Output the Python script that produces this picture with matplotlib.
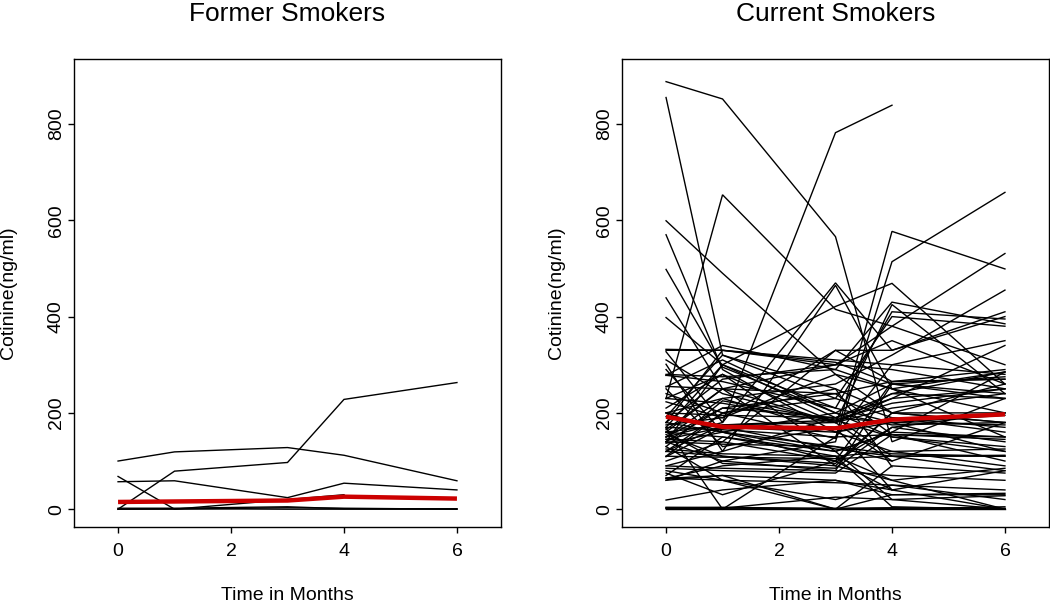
import numpy as np
import matplotlib
matplotlib.use('Agg')
from matplotlib import pyplot as plt

plt.rcParams['font.family'] = ['Liberation Sans', 'DejaVu Sans']

# months where cotinine was measured
meses = [0, 1, 3, 4, 6]
nan = np.nan

# former smokers, one row per subject
ex_fumantes = [
    [0, 79, 97, 228, 263],
    [100, 119, 128, 112, 59],
    [57, 59, 24, 54, 40],
    [68, 0, 20, 30, nan],
    [0, 0, 3, 2, 0],
    [2, 2, 5, 1, 1],
    [0, 1, 0, 0, 0],
]
media_ex = [15, 16, 18, 26, 22]

# current smokers, one row per subject
fumantes = [
    [888, 852, 566, 140, 230],
    [855, 320, 250, 200, 180],
    [150, 180, 782, 839, nan],
    [230, 653, 415, 380, 300],
    [599, 490, 280, 250, 200],
    [570, 290, 160, 120, 90],
    [498, 295, 200, 150, 130],
    [439, 250, 180, 210, 240],
    [120, 200, 147, 577, 499],
    [140, 100, 140, 514, 658],
    [170, 300, 421, 469, 260],
    [160, 250, 300, 380, 531],
    [200, 230, 260, 320, 455],
    [398, 300, 190, 110, 80],
    [332, 330, 310, 300, 280],
    [327, 180, 470, 330, 400],
    [301, 120, 465, 250, 150],
    [278, 340, 290, 430, 385],
    [278, 265, 210, 410, 395],
    [254, 310, 200, 260, 275],
    [223, 190, 330, 330, 410],
    [210, 280, 180, 425, 240],
    [192, 320, 230, 400, 380],
    [168, 0, 150, 300, 350],
    [160, 150, 120, 160, 150],
    [150, 210, 190, 240, 285],
    [145, 140, 100, 265, 270],
    [137, 160, 200, 175, 180],
    [130, 225, 185, 150, 120],
    [120, 110, 90, 200, 260],
    [109, 170, 125, 110, 110],
    [85, 80, 75, 155, 145],
    [80, 60, 20, 50, 40],
    [64, 90, 110, 60, 85],
    [64, 70, 60, 40, 0],
    [60, 100, 80, 260, 230],
    [19, 40, 60, 30, 33],
    [2, 2, 2, 3, 2],
    [0, 0, 0, 0, 0],
    [4, 3, 0, 2, 1],
    [1, 2, 25, 20, 28],
    [150, 230, 160, 190, 170],
    [165, 250, 90, 60, 0],
    [140, 300, 210, 180, 120],
    [290, 160, 130, 100, 180],
    [250, 130, 170, 40, 80],
    [180, 270, 300, 350, 260],
    [200, 160, 100, 170, 140],
    [175, 190, 280, 200, 200],
    [310, 240, 180, 230, 250],
    [100, 140, 330, 265, 270],
    [90, 120, 190, 230, 340],
    [130, 60, 0, 90, 75],
    [70, 150, 110, 5, 0],
    [230, 280, 120, 160, 285],
    [160, 95, 85, 170, 200],
    [140, 210, 240, 155, 100],
    [120, 175, 180, 100, nan],
    [110, 200, 250, 88, nan],
    [75, 30, 100, 40, nan],
    [180, 330, 300, 290, 250],
    [60, 70, 0, 30, 30],
    [155, 110, 95, 200, 180],
    [240, 200, 230, 190, 160],
    [145, 170, 160, 180, 195],
    [330, 330, 305, 260, 240],
    [280, 275, 290, 250, 285],
    [255, 250, 240, 265, 290],
    [170, 165, 150, 155, 150],
    [140, 135, 130, 115, 110],
    [110, 108, 105, 110, 112],
    [90, 85, 80, 70, 60],
    [65, 60, 55, 50, 20],
    [180, 160, 120, 20, 0],
    [230, 220, 180, 240, 230],
    [200, 195, 190, 180, 175],
    [125, 115, 110, 120, 125],
    [160, 175, 185, 220, 250],
    [3, 4, 1, 0, 5],
]
media_atual = [192, 171, 168, 186, 197]

titulos = ['Former Smokers', 'Current Smokers']
rotulo_x = 'Time in Months'
rotulo_y = 'Cotinine(ng/ml)'
ticks_x = [0, 2, 4, 6]
ticks_y = [0, 200, 400, 600, 800]

W, H = 1050, 604
fig = plt.figure(figsize=(W / 100, H / 100), dpi=100)

paineis = [
    (74, ex_fumantes, media_ex, titulos[0]),
    (622, fumantes, media_atual, titulos[1]),
]

for esquerda, dados, media, titulo in paineis:
    ax = fig.add_axes([esquerda / W, 1 - 527 / H, 427 / W, 468 / H])
    for linha in dados:
        ax.plot(meses, linha, color='black', lw=1.0, solid_joinstyle='miter')
    ax.plot(meses, media, color='#cc0000', lw=3.2, solid_capstyle='butt')
    ax.set_xlim(-0.78, 6.78)
    ax.set_ylim(-37, 935)
    ax.set_xticks(ticks_x)
    ax.set_yticks(ticks_y)
    ax.tick_params(direction='out', length=4.5, width=1.0, labelsize=14, color='black')
    ax.tick_params(axis='x', pad=7)
    ax.tick_params(axis='y', pad=2)
    for lab in ax.get_yticklabels():
        lab.set_rotation(90)
        lab.set_va('center')
    for s in ax.spines.values():
        s.set_linewidth(1.0)
        s.set_color('black')

    centro = (esquerda + 213.5) / W
    fig.text(centro, 1 - 14 / H, titulo, ha='center', va='center', fontsize=19)
    fig.text(centro, 1 - 596 / H, rotulo_x, ha='center', va='center', fontsize=14)
    fig.text((esquerda - 65) / W, 1 - 293 / H, rotulo_y, ha='center', va='center',
             rotation=90, fontsize=14)

fig.savefig('out.png', dpi=100)
